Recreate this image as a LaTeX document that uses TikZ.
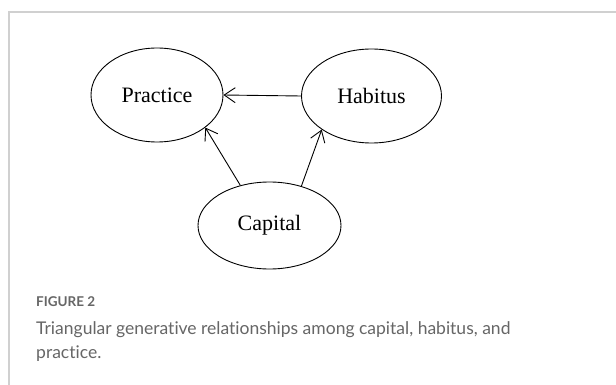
\documentclass[tikz,border=0pt]{standalone}
\usepackage{fontspec}
\setmainfont{Liberation Serif}
\newfontfamily\capfont[Ligatures=NoCommon]{Lato}
\usetikzlibrary{shapes.geometric,arrows.meta}
\definecolor{framegray}{HTML}{D0D0D0}
\definecolor{capgray}{HTML}{666666}
\begin{document}
\begin{tikzpicture}[x=1pt,y=-1pt,
  oval/.style={draw,ellipse,line width=0.9pt,inner sep=0pt,font=\fontsize{22}{24}\selectfont},
  arr/.style={draw,line width=0.9pt,-{Straight Barb[length=11pt,width=15pt,line width=0.9pt]}},
  captxt/.style={anchor=base west,inner sep=0pt,text=capgray}]
\useasboundingbox (0,0) rectangle (616,385);
\fill[white] (0,0) rectangle (616,385);
\draw[framegray,line width=1.5pt] (9,385) -- (9,12) -- (616,12);
\node[oval,minimum width=132pt,minimum height=94pt] (p) at (157,95) {Practice};
\node[oval,minimum width=140pt,minimum height=94pt] (h) at (371.5,96) {Habitus};
\node[oval,minimum width=143pt,minimum height=87pt] (c) at (269.5,225.5) {Capital};
\draw[arr] (h.180) -- (p.0);
\draw[arr] (c.126) -- (p.-34);
\draw[arr] (c.51) -- (h.214);
\node[captxt,font=\capfont\bfseries\fontsize{13.5}{16}\selectfont] (fig) at (36,306.7) {FIGURE 2};
\node[captxt,font=\capfont\fontsize{17.5}{24}\selectfont] (cap1) at (36,334) {Triangular generative relationships among capital, habitus, and};
\node[captxt,font=\capfont\fontsize{17.5}{24}\selectfont] (cap2) at (36,358) {practice.};
\end{tikzpicture}
\end{document}
